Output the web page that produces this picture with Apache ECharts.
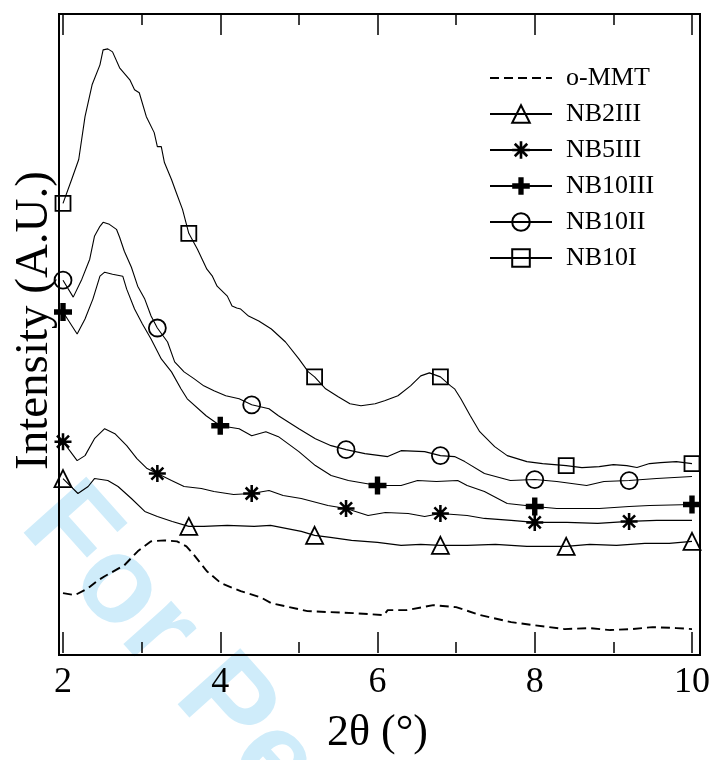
<!DOCTYPE html>
<html><head><meta charset="utf-8">
<script src="https://cdn.jsdelivr.net/npm/echarts@6/dist/echarts.min.js"></script>
<style>html,body{margin:0;padding:0;background:#fff}#c{width:713px;height:760px}</style>
</head><body><div id="c"></div>
<script>
// ---- data (2θ in degrees, intensity in arbitrary units) ----
const mmtX = [2.00,2.15,2.32,2.43,2.53,2.78,2.95,3.12,3.29,3.45,3.57,3.67,3.83,4.01,4.26,4.51,4.65,5.11,5.40,5.69,6.08,6.13,6.37,6.71,7.00,7.31,7.70,7.98,8.38,8.70,8.96,9.24,9.50,9.80,10.00];
const mmtY = [60,58,65,72,77,88,102,112,113,112,107,98,82,70,62,56,50,42,41,40,38,43,43,48,46,38,31,28,24,25,23,24,26,25,24];

const nb2X = [2.00,2.19,2.32,2.40,2.57,2.70,2.87,3.04,3.20,3.39,3.60,3.79,4.09,4.43,4.64,5.03,5.20,5.40,5.67,6.00,6.30,6.55,6.80,7.14,7.50,7.90,8.40,8.70,9.04,9.40,9.71,10.00];
const nb2Y = [175,160,167,175,173,167,155,142,137,132,127,127,128,127,128,122,118,116,113,111,108,109,108,108,109,107,107,109,108,110,110,112];

const nb5X = [2.00,2.18,2.28,2.40,2.53,2.66,2.81,2.94,3.07,3.20,3.38,3.54,3.76,3.92,4.17,4.40,4.62,4.80,5.03,5.37,5.60,5.88,6.10,6.39,6.60,6.80,7.14,7.36,7.70,8.00,8.41,8.80,9.20,9.55,10.00];
const nb5Y = [212,193,198,215,225,220,208,195,185,180,173,167,165,162,159,160,163,158,155,148,145,138,141,140,137,140,138,135,133,131,131,130,132,133,133];

const nb10iiiX = [2.00,2.18,2.28,2.38,2.47,2.53,2.63,2.76,2.81,2.91,3.01,3.12,3.25,3.38,3.50,3.58,3.82,4.00,4.24,4.40,4.58,4.74,5.00,5.21,5.41,5.63,6.00,6.30,6.51,6.75,7.02,7.14,7.36,7.65,8.00,8.28,8.82,9.20,9.46,10.00];
const nb10iiiY = [342,320,335,355,378,382,380,378,365,345,330,315,295,282,265,255,238,228,225,218,222,217,202,188,178,173,168,168,173,172,173,168,162,150,147,145,145,147,148,149];

const nb10iiX = [2.00,2.13,2.24,2.34,2.40,2.47,2.51,2.59,2.68,2.72,2.78,2.87,2.95,3.04,3.12,3.20,3.33,3.42,3.54,3.67,3.79,3.92,4.07,4.24,4.40,4.62,4.74,5.00,5.21,5.41,5.60,5.84,6.13,6.30,6.60,6.80,6.98,7.11,7.36,7.69,8.00,8.28,8.66,8.88,9.20,9.55,10.00];
const nb10iiY = [374,357,375,395,418,428,432,430,425,417,403,387,368,355,338,326,312,292,282,275,268,263,258,255,249,245,238,225,215,208,204,200,197,203,202,198,197,192,180,173,174,172,168,172,173,175,177];

const nb10iX = [2.00,2.11,2.20,2.28,2.37,2.47,2.51,2.57,2.63,2.72,2.85,2.91,2.97,3.06,3.16,3.20,3.25,3.29,3.38,3.44,3.52,3.60,3.71,3.83,3.90,3.96,4.09,4.15,4.21,4.26,4.36,4.49,4.65,4.83,5.00,5.12,5.20,5.34,5.50,5.65,5.79,5.97,6.09,6.26,6.42,6.55,6.66,6.80,6.93,6.98,7.06,7.18,7.30,7.49,7.65,7.90,8.10,8.40,8.60,8.82,9.00,9.17,9.30,9.46,9.60,9.80,10.00];
const nb10iY = [451,475,495,538,570,590,605,606,603,587,575,565,562,538,522,508,508,492,475,462,445,421,405,385,378,368,358,348,346,345,338,333,325,312,295,282,277,265,257,250,248,250,253,258,268,278,281,277,268,265,255,238,222,207,198,192,190,188,186,187,189,188,186,190,191,192,190];

// marker positions along each curve
const marksA = [2, 3.6, 5.2, 6.8, 8.4, 10];        // NB2III, NB10I
const marksB = [2, 3.2, 4.4, 5.6, 6.8, 8, 9.2];    // NB5III, NB10II
const marksC = [2, 4, 6, 8, 10];                   // NB10III

const seriesNames = ['o-MMT','NB2III','NB5III','NB10III','NB10II','NB10I'];
const xTicks = [2, 4, 6, 8, 10];

const FONT = '"Liberation Serif", "Times New Roman", serif';
const starPath = 'path://M-10,-1.5L10,-1.5L10,1.5L-10,1.5Z M-1.5,-10L1.5,-10L1.5,10L-1.5,10Z M-6.01,-8.13L8.13,6.01L6.01,8.13L-8.13,-6.01Z M-8.13,6.01L6.01,-8.13L8.13,-6.01L-6.01,8.13Z';
const plusPath = 'path://M-3,-10L3,-10L3,-3L10,-3L10,3L3,3L3,10L-3,10L-3,3L-10,3L-10,-3L-3,-3Z';

function build(xs, ys, marks) {
  return xs.map((x, i) => {
    const isMark = marks && marks.some(m => Math.abs(m - x) < 1e-6);
    return isMark ? { value: [x, ys[i]] } : { value: [x, ys[i]], symbol: 'none' };
  });
}

function lineSeries(name, data, symbol, size, kind, dashed) {
  let itemStyle;
  if (kind === 'filled') itemStyle = { color: '#000', borderWidth: 0 };
  else if (kind === 'hidden') itemStyle = { color: 'rgba(0,0,0,0)', borderColor: 'rgba(0,0,0,0)', borderWidth: 0 };
  else itemStyle = { color: 'rgba(0,0,0,0)', borderColor: '#000', borderWidth: 1.8 };
  return {
    type: 'line', name, data, xAxisIndex: 0, yAxisIndex: 0,
    symbol, symbolSize: size, showSymbol: true, showAllSymbol: true,
    lineStyle: { color: '#000', width: dashed ? 1.9 : 1.1, type: dashed ? [9, 5] : 'solid' },
    itemStyle,
    emphasis: { disabled: true }, silent: true, z: 3
  };
}

const chart = echarts.init(document.getElementById('c'), null, { renderer: 'canvas' });
const tickStyle = { color: '#000', width: 1.5 };
chart.setOption({
  animation: false,
  backgroundColor: '#fff',
  grid: [
    { left: 63, right: 17, top: 14, bottom: 105 },
    { left: 59, right: 13, top: 14, bottom: 105, show: true, borderColor: '#000', borderWidth: 2, backgroundColor: 'transparent' }
  ],
  xAxis: [
    { type: 'value', gridIndex: 0, position: 'bottom', min: xTicks[0], max: xTicks[xTicks.length-1], interval: 2,
      axisLine: { show: false },
      axisTick: { show: true, inside: true, length: 21, lineStyle: tickStyle },
      minorTick: { show: true, splitNumber: 2, length: 11, lineStyle: tickStyle },
      axisLabel: { fontFamily: FONT, fontSize: 36, color: '#000', margin: 12 },
      splitLine: { show: false }, minorSplitLine: { show: false },
      name: '2θ (°)', nameLocation: 'middle', nameGap: 58,
      nameTextStyle: { fontFamily: FONT, fontSize: 44, color: '#000' } },
    { type: 'value', gridIndex: 0, position: 'top', min: xTicks[0], max: xTicks[xTicks.length-1], interval: 2,
      axisLine: { show: false },
      axisTick: { show: true, inside: true, length: 21, lineStyle: tickStyle },
      minorTick: { show: true, splitNumber: 2, length: 11, lineStyle: tickStyle },
      axisLabel: { show: false }, splitLine: { show: false } },
    { type: 'value', gridIndex: 1, show: false, min: 0, max: 1 }
  ],
  yAxis: [
    { type: 'value', gridIndex: 0, min: 0, max: 641,
      axisLine: { show: false }, axisTick: { show: false }, axisLabel: { show: false }, splitLine: { show: false },
      name: 'Intensity (A.U.)', nameLocation: 'middle', nameGap: 5, nameRotate: 90,
      nameTextStyle: { fontFamily: FONT, fontSize: 47, color: '#000', padding: [0, 0, 0, 26] } },
    { type: 'value', gridIndex: 1, show: false, min: 0, max: 1 }
  ],
  legend: {
    data: seriesNames, orient: 'vertical', left: 484, top: 60,
    itemWidth: 62, itemHeight: 22, itemGap: 10, selectedMode: false,
    textStyle: { fontFamily: FONT, fontSize: 26, color: '#000', lineHeight: 25, padding: [0, 0, 0, 9] }
  },
  graphic: [
    { type: 'text', x: -2, y: 545, rotation: -0.84, z: -10, silent: true,
      style: { text: 'For Peer Review', font: 'bold 122px "Liberation Sans", Arial, sans-serif',
               fill: '#cfecfa', textAlign: 'left', textVerticalAlign: 'bottom', align: 'left', verticalAlign: 'bottom' } }
  ],
  series: [
    lineSeries(seriesNames[0], build(mmtX, mmtY, null), 'none', 0, 'hidden', true),
    lineSeries(seriesNames[1], build(nb2X, nb2Y, marksA), 'triangle', 17, 'open', false),
    lineSeries(seriesNames[2], build(nb5X, nb5Y, marksB), starPath, 17, 'filled', false),
    lineSeries(seriesNames[3], build(nb10iiiX, nb10iiiY, marksC), plusPath, 18, 'filled', false),
    lineSeries(seriesNames[4], build(nb10iiX, nb10iiY, marksB), 'circle', 17, 'open', false),
    lineSeries(seriesNames[5], build(nb10iX, nb10iY, marksA), 'rect', 15, 'open', false)
  ]
});
</script></body></html>
